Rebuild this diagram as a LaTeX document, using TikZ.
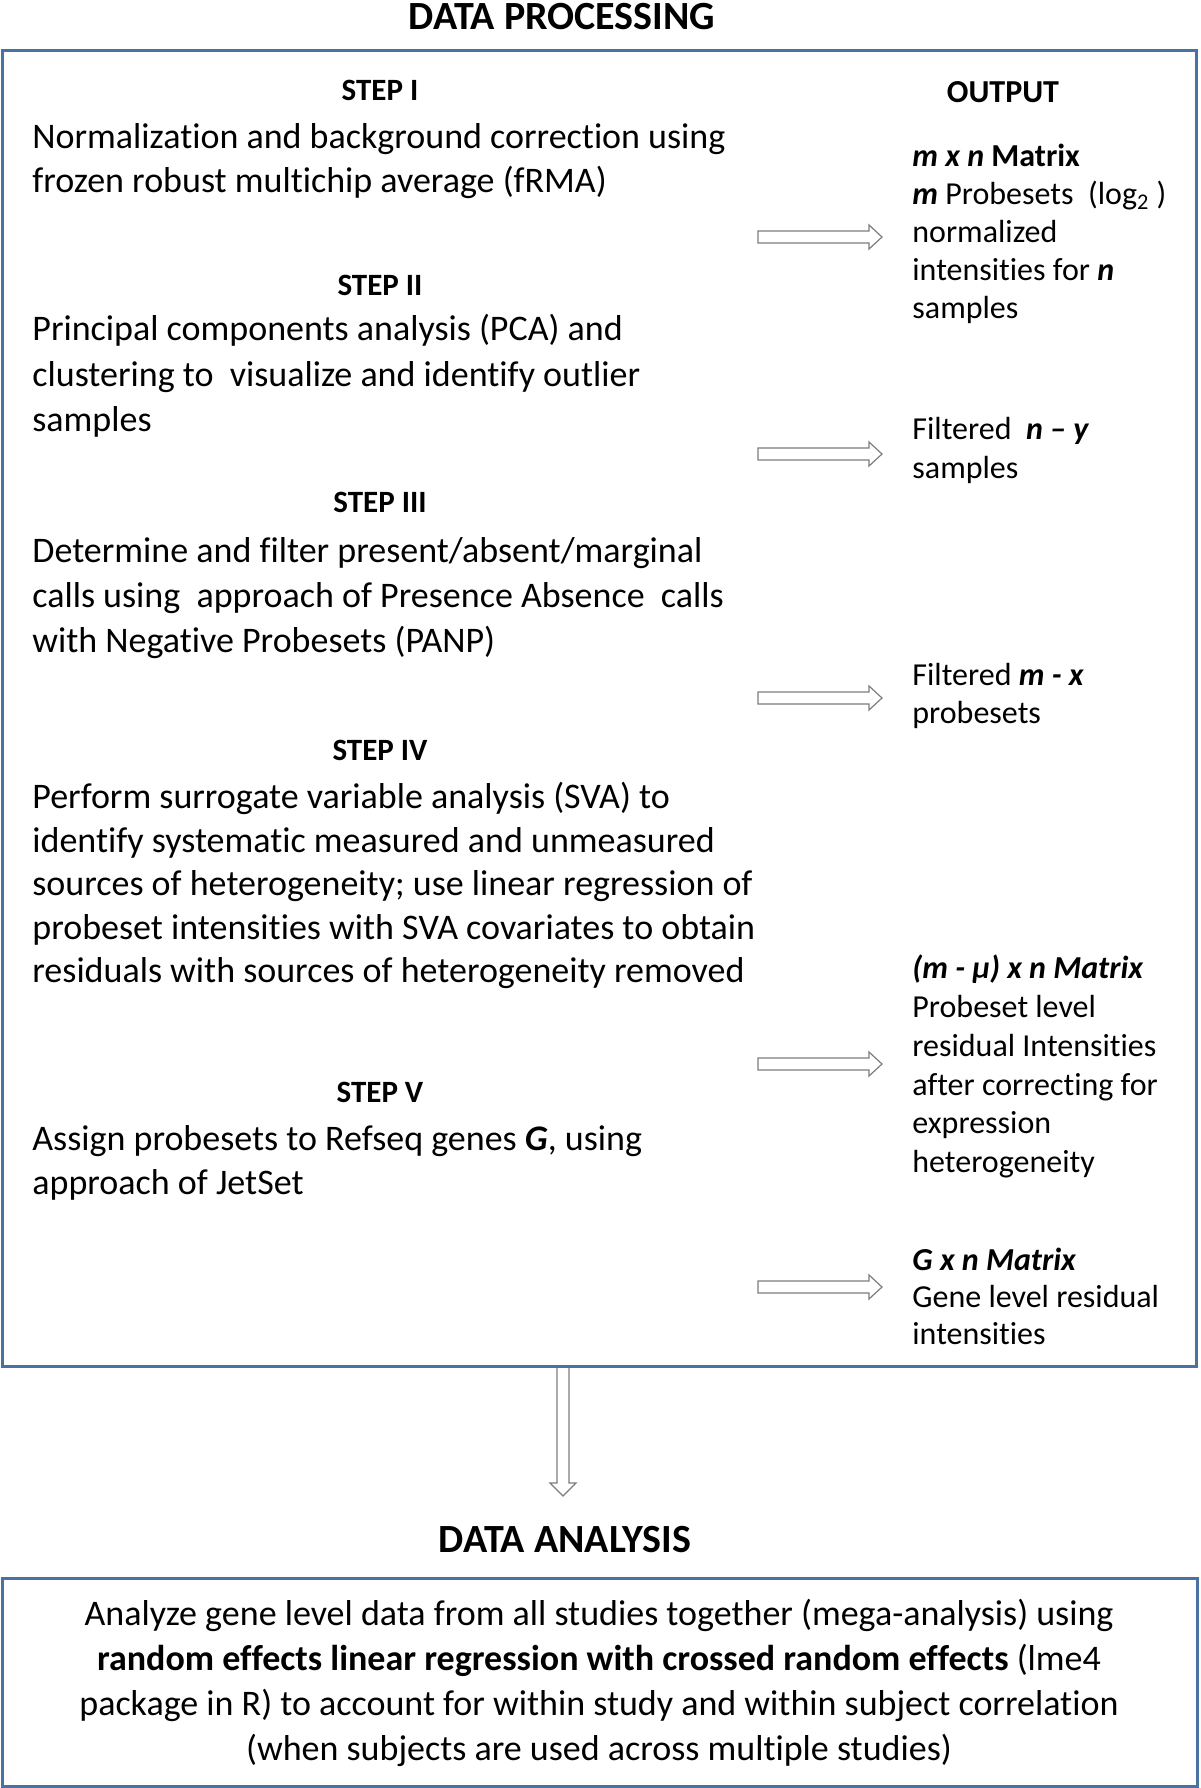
\documentclass[tikz,border=0pt]{standalone}
\usepackage{fontspec}
\setmainfont{Carlito}[Ligatures=NoCommon]
\definecolor{boxblue}{RGB}{74,114,160}
\definecolor{arrowgray}{RGB}{125,125,125}
\tikzset{
  body/.style={anchor=base west, inner sep=0pt, font=\fontsize{18}{22}\selectfont},
  centerline/.style={anchor=base, inner sep=0pt, font=\fontsize{18}{22}\selectfont},
  steplabel/.style={anchor=base, inner sep=0pt, font=\fontsize{15.5}{19}\selectfont\bfseries},
  headtitle/.style={anchor=base, inner sep=0pt, font=\fontsize{20}{24}\selectfont\bfseries},
  outtext/.style={anchor=base west, inner sep=0pt, font=\fontsize{16}{19}\selectfont},
  frame/.style={draw=boxblue, line width=1.5pt},
  hollowarrow/.style={draw=arrowgray, fill=white, line width=0.6pt, line join=miter},
}
\newcommand{\bi}[1]{\textbf{\textit{#1}}}
\begin{document}
\begin{tikzpicture}[x=0.5pt,y=-0.5pt]
\useasboundingbox (0,0) rectangle (1200,1788);

% titles
\node[headtitle] (t1) at (562,29) {DATA PROCESSING};
\node[headtitle] (t2) at (565,1552) {DATA ANALYSIS};

% down arrow (drawn before the frame so the frame line covers its top)
\draw[hollowarrow] (557,1366) -- (569,1366) -- (569,1483) -- (576,1483) -- (563,1496) -- (550,1483) -- (557,1483) -- cycle;

% frames
\draw[frame] (2,50) rectangle (1196,1366);
\draw[frame] (2,1578) rectangle (1197,1786);

% STEP I
\node[steplabel] (s1) at (380,100) {STEP I};
\node[body] (s1a) at (32,148) {Normalization and background correction using};
\node[body] (s1b) at (32,192) {frozen robust multichip average (fRMA)};

% STEP II
\node[steplabel] (s2) at (380,295) {STEP II};
\node[body] (s2a) at (32,340) {Principal components analysis (PCA) and};
\node[body] (s2b) at (32,386) {clustering to~ visualize and identify outlier};
\node[body] (s2c) at (32,431) {samples};

% STEP III
\node[steplabel] (s3) at (380,512) {STEP III};
\node[body] (s3a) at (32,562) {Determine and filter present/absent/marginal};
\node[body] (s3b) at (32,607) {calls using~ approach of Presence Absence~ calls};
\node[body] (s3c) at (32,652) {with Negative Probesets (PANP)};

% STEP IV
\node[steplabel] (s4) at (380,760) {STEP IV};
\node[body] (s4a) at (32,808) {Perform surrogate variable analysis (SVA) to};
\node[body] (s4b) at (32,852) {identify systematic measured and unmeasured};
\node[body] (s4c) at (32,895) {sources of heterogeneity; use linear regression of};
\node[body] (s4d) at (32,939) {probeset intensities with SVA covariates to obtain};
\node[body] (s4e) at (32,982) {residuals with sources of heterogeneity removed};

% STEP V
\node[steplabel] (s5) at (380,1102) {STEP V};
\node[body] (s5a) at (32,1150) {Assign probesets to Refseq genes \bi{G}, using};
\node[body] (s5b) at (32,1194) {approach of JetSet};

% OUTPUT column
\node[steplabel, font=\fontsize{16}{19}\selectfont\bfseries] (out) at (1003,102) {OUTPUT};
\node[outtext] (o1a) at (912,166) {\bi{m x n} \textbf{Matrix}};
\node[outtext] (o1b) at (912,204) {\bi{m} Probesets~ (log\textsubscript{2} )};
\node[outtext] (o1c) at (912,242) {normalized};
\node[outtext] (o1d) at (912,280) {intensities for \bi{n}};
\node[outtext] (o1e) at (912,318) {samples};

\node[outtext] (o2a) at (912,439) {Filtered~ \bi{n – y}};
\node[outtext] (o2b) at (912,478) {samples};

\node[outtext] (o3a) at (912,685) {Filtered \bi{m - x}};
\node[outtext] (o3b) at (912,723) {probesets};

\node[outtext] (o4a) at (912,978) {\bi{(m - μ) x n Matrix}};
\node[outtext] (o4b) at (912,1017) {Probeset level};
\node[outtext] (o4c) at (912,1056) {residual Intensities};
\node[outtext] (o4d) at (912,1095) {after correcting for};
\node[outtext] (o4e) at (912,1133) {expression};
\node[outtext] (o4f) at (912,1172) {heterogeneity};

\node[outtext] (o5a) at (912,1270) {\bi{G x n Matrix}};
\node[outtext] (o5b) at (912,1307) {Gene level residual};
\node[outtext] (o5c) at (912,1344) {intensities};

% horizontal hollow arrows
\foreach \yy in {237,454,698,1064,1287}{
  \draw[hollowarrow] (758,\yy-6) -- (869,\yy-6) -- (869,\yy-12) -- (882,\yy) -- (869,\yy+12) -- (869,\yy+6) -- (758,\yy+6) -- cycle;
}

% DATA ANALYSIS box text
\node[centerline] (b1) at (599,1625) {Analyze gene level data from all studies together (mega-analysis) using};
\node[centerline] (b2) at (599,1670) {\textbf{random effects linear regression with crossed random effects} (lme4};
\node[centerline] (b3) at (599,1715) {package in R) to account for within study and within subject correlation};
\node[centerline] (b4) at (599,1760) {(when subjects are used across multiple studies)};
\end{tikzpicture}
\end{document}
